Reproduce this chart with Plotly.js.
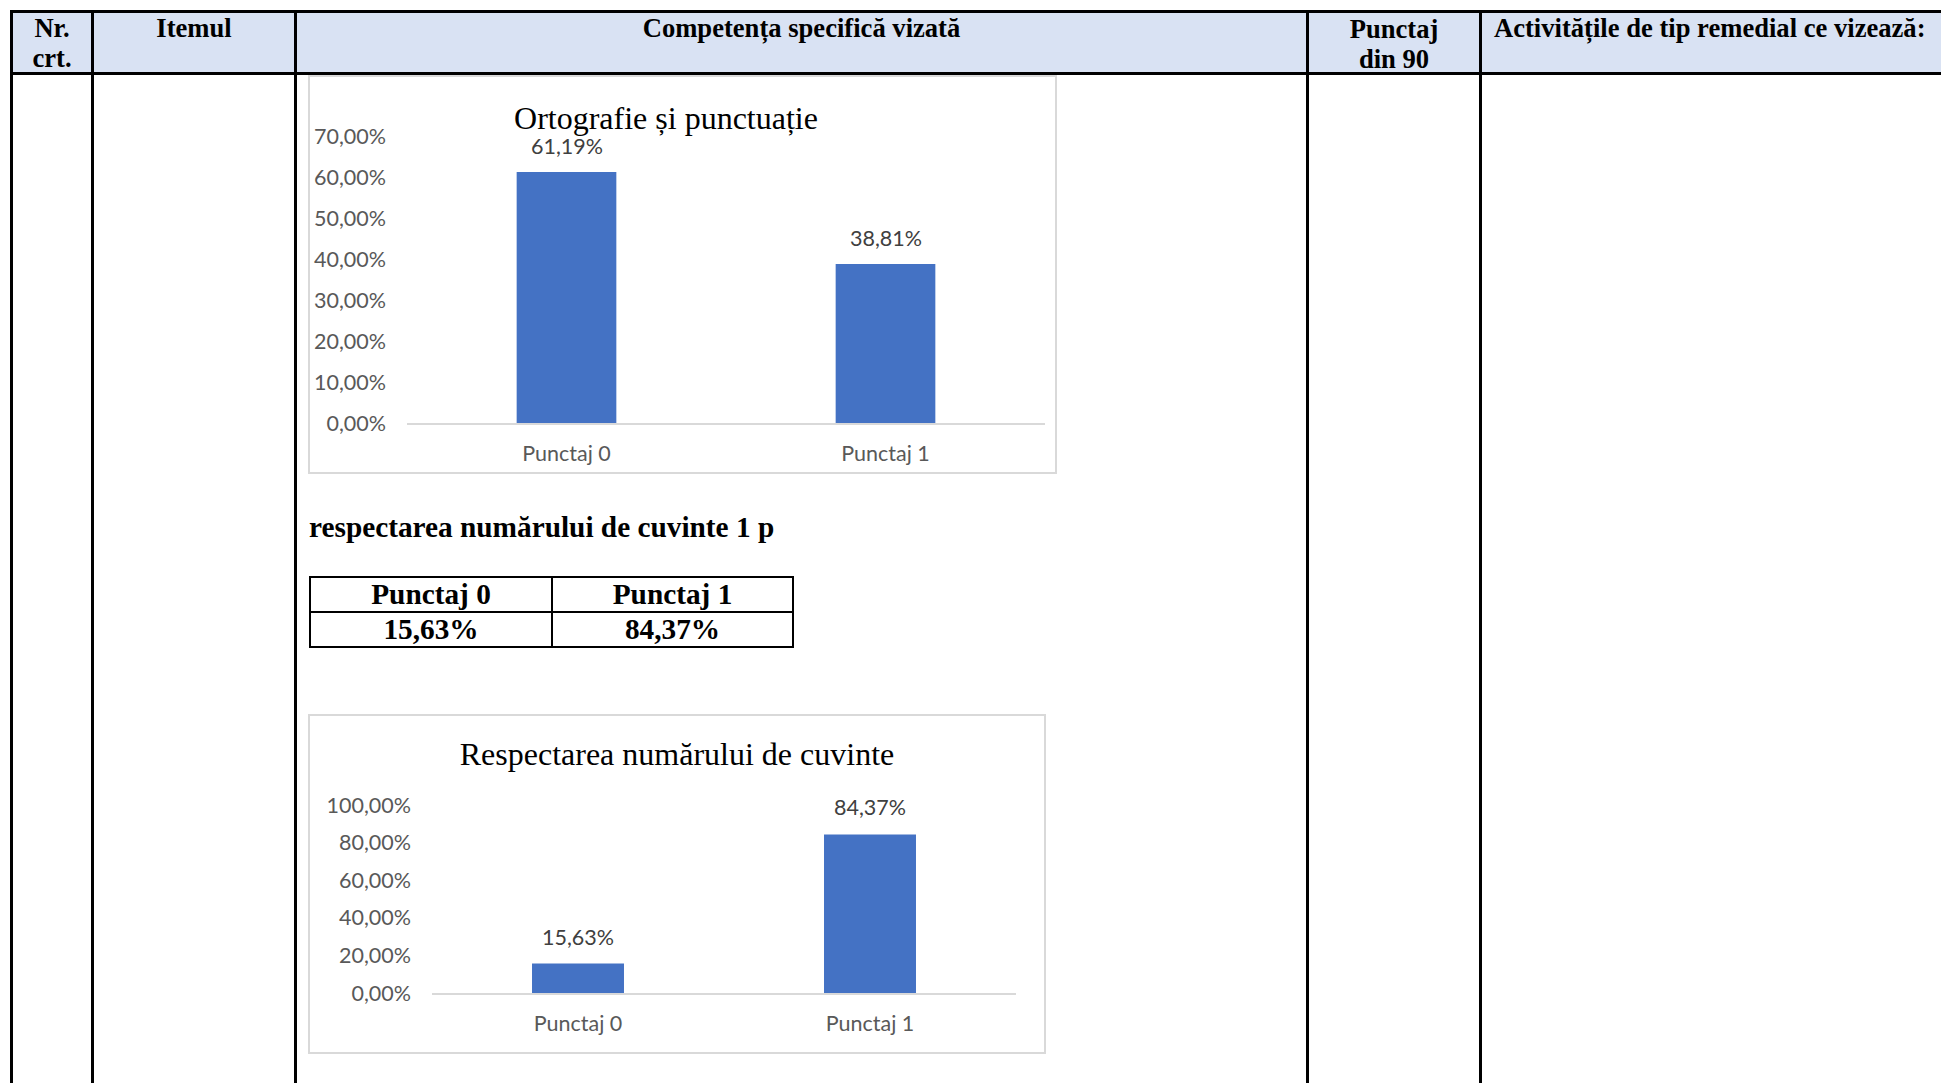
<!DOCTYPE html>
<html>
<head>
<meta charset="utf-8">
<script src="https://cdn.plot.ly/plotly-3.0.1.min.js"></script>
<style>
  html, body { margin: 0; padding: 0; background: #ffffff; }
  body { width: 1941px; height: 1083px; position: relative; overflow: hidden; }
  .abs { position: absolute; }
  .line { position: absolute; background: #000000; }
  .hdr { position: absolute; font-family: "Liberation Serif", "Times New Roman", serif; font-weight: bold;
         font-size: 26.6px; line-height: 30px; color: #000; text-align: center; white-space: nowrap; }
  .body-bold { position: absolute; font-family: "Liberation Serif", "Times New Roman", serif; font-weight: bold;
         font-size: 29.3px; color: #000; white-space: nowrap; }
  .cell { position: absolute; font-family: "Liberation Serif", "Times New Roman", serif; font-weight: bold;
         font-size: 29.3px; color: #000; text-align: center; white-space: nowrap; }
  .chartbox { position: absolute; box-sizing: border-box; border: 2px solid #D9D9D9; pointer-events: none; }
</style>
</head>
<body>
<!-- header background -->
<div class="abs" style="left:10px; top:10px; width:1931px; height:64px; background:#D9E2F3;"></div>

<!-- main table lines -->
<div class="line" style="left:10px; top:10px; width:1931px; height:3px;"></div>
<div class="line" style="left:10px; top:72px; width:1931px; height:3px;"></div>
<div class="line" style="left:10px; top:10px; width:3px; height:1073px;"></div>
<div class="line" style="left:91px; top:10px; width:3px; height:1073px;"></div>
<div class="line" style="left:294px; top:10px; width:3px; height:1073px;"></div>
<div class="line" style="left:1306px; top:10px; width:3px; height:1073px;"></div>
<div class="line" style="left:1479px; top:10px; width:3px; height:1073px;"></div>

<!-- header texts -->
<div class="hdr" style="left:13px; width:78px; top:13px;">Nr.<br>crt.</div>
<div class="hdr" style="left:94px; width:200px; top:13px;">Itemul</div>
<div class="hdr" style="left:297px; width:1009px; top:13px;">Competența specifică vizată</div>
<div class="hdr" style="left:1309px; width:170px; top:14px;">Punctaj<br>din 90</div>
<div class="hdr" style="left:1494px; top:13px; text-align:left;">Activitățile de tip remedial ce vizează:</div>

<!-- chart 1 -->
<div id="chart1" class="abs" style="left:309px; top:76px; width:747px; height:397px;"></div>
<div class="chartbox" style="left:308px; top:75px; width:749px; height:399px;"></div>

<!-- text -->
<div class="body-bold" id="subtitle" style="left:309px; top:508px; line-height:38px;"></div>

<!-- small table -->
<div class="line" style="left:309px; top:576px; width:485px; height:2px;"></div>
<div class="line" style="left:309px; top:611px; width:485px; height:2px;"></div>
<div class="line" style="left:309px; top:646px; width:485px; height:2px;"></div>
<div class="line" style="left:309px; top:576px; width:2px; height:72px;"></div>
<div class="line" style="left:551px; top:576px; width:2px; height:72px;"></div>
<div class="line" style="left:792px; top:576px; width:2px; height:72px;"></div>
<div class="cell" id="c00" style="left:311px; width:240px; top:578px; line-height:33px;"></div>
<div class="cell" id="c01" style="left:553px; width:239px; top:578px; line-height:33px;"></div>
<div class="cell" id="c10" style="left:311px; width:240px; top:613px; line-height:33px;"></div>
<div class="cell" id="c11" style="left:553px; width:239px; top:613px; line-height:33px;"></div>

<!-- chart 2 -->
<div id="chart2" class="abs" style="left:309px; top:715px; width:736px; height:338px;"></div>
<div class="chartbox" style="left:308px; top:714px; width:738px; height:340px;"></div>

<script>
// ---- data ----
const categories = ['Punctaj 0', 'Punctaj 1'];
const ortografieValues = [61.19, 38.81];
const cuvinteValues = [15.63, 84.37];
const chart1Title = 'Ortografie și punctuație';
const chart2Title = 'Respectarea numărului de cuvinte';
const subtitleText = 'respectarea numărului de cuvinte 1 p';
const yTicks1 = [0, 10, 20, 30, 40, 50, 60, 70];
const yTicks2 = [0, 20, 40, 60, 80, 100];

function fmtPct(v) { return v.toFixed(2).replace('.', ',') + '%'; }

document.getElementById('subtitle').textContent = subtitleText;
document.getElementById('c00').textContent = categories[0];
document.getElementById('c01').textContent = categories[1];
document.getElementById('c10').textContent = fmtPct(cuvinteValues[0]);
document.getElementById('c11').textContent = fmtPct(cuvinteValues[1]);

const tickFont = { family: 'Lato, "Open Sans", sans-serif', size: 21.5, color: '#595959' };
const labelFont = { family: 'Lato, "Open Sans", sans-serif', size: 21.5, color: '#404040' };
const titleFont = { family: '"Liberation Serif", "Times New Roman", serif', size: 32, color: '#000000' };

function makeChart(id, values, ticks, title, margin, size, titlePos, gap, yshift) {
  const trace = {
    type: 'bar', x: categories, y: values,
    marker: { color: '#4472C4' },
    hoverinfo: 'none'
  };
  const annotations = categories.map((c, i) => ({
    x: c, y: values[i], xref: 'x', yref: 'y',
    text: fmtPct(values[i]), showarrow: false,
    yanchor: 'middle', xanchor: 'center', yshift: yshift,
    font: labelFont
  }));
  const layout = {
    width: size[0], height: size[1],
    margin: margin,
    paper_bgcolor: 'rgba(0,0,0,0)', plot_bgcolor: 'rgba(0,0,0,0)',
    showlegend: false,
    bargap: gap,
    title: { text: title, font: titleFont, xref: 'container', yref: 'container',
             x: titlePos[0], y: titlePos[1], xanchor: 'center', yanchor: 'middle' },
    xaxis: {
      type: 'category', showline: true, linecolor: '#D9D9D9', linewidth: 2,
      showgrid: false, zeroline: false, ticks: '', tickfont: tickFont,
      ticklabelstandoff: 10, range: [-0.5, 1.5], fixedrange: true
    },
    yaxis: {
      range: [0, ticks[ticks.length - 1]], tickmode: 'array', tickvals: ticks,
      ticktext: ticks.map(fmtPct),
      showline: false, showgrid: false, zeroline: false, ticks: '', tickfont: tickFont,
      ticklabelstandoff: 20, fixedrange: true
    },
    annotations: annotations
  };
  Plotly.newPlot(id, [trace], layout, { staticPlot: true, displayModeBar: false });
}

makeChart('chart1', ortografieValues, yTicks1, chart1Title,
  { l: 98, r: 11, t: 60, b: 50 }, [747, 397], [357 / 747, 1 - 41.6 / 397], 0.6875, 26);
makeChart('chart2', cuvinteValues, yTicks2, chart2Title,
  { l: 123, r: 29, t: 90, b: 60 }, [736, 338], [368 / 736, 1 - 39 / 338], 0.685, 27);
</script>
</body>
</html>
